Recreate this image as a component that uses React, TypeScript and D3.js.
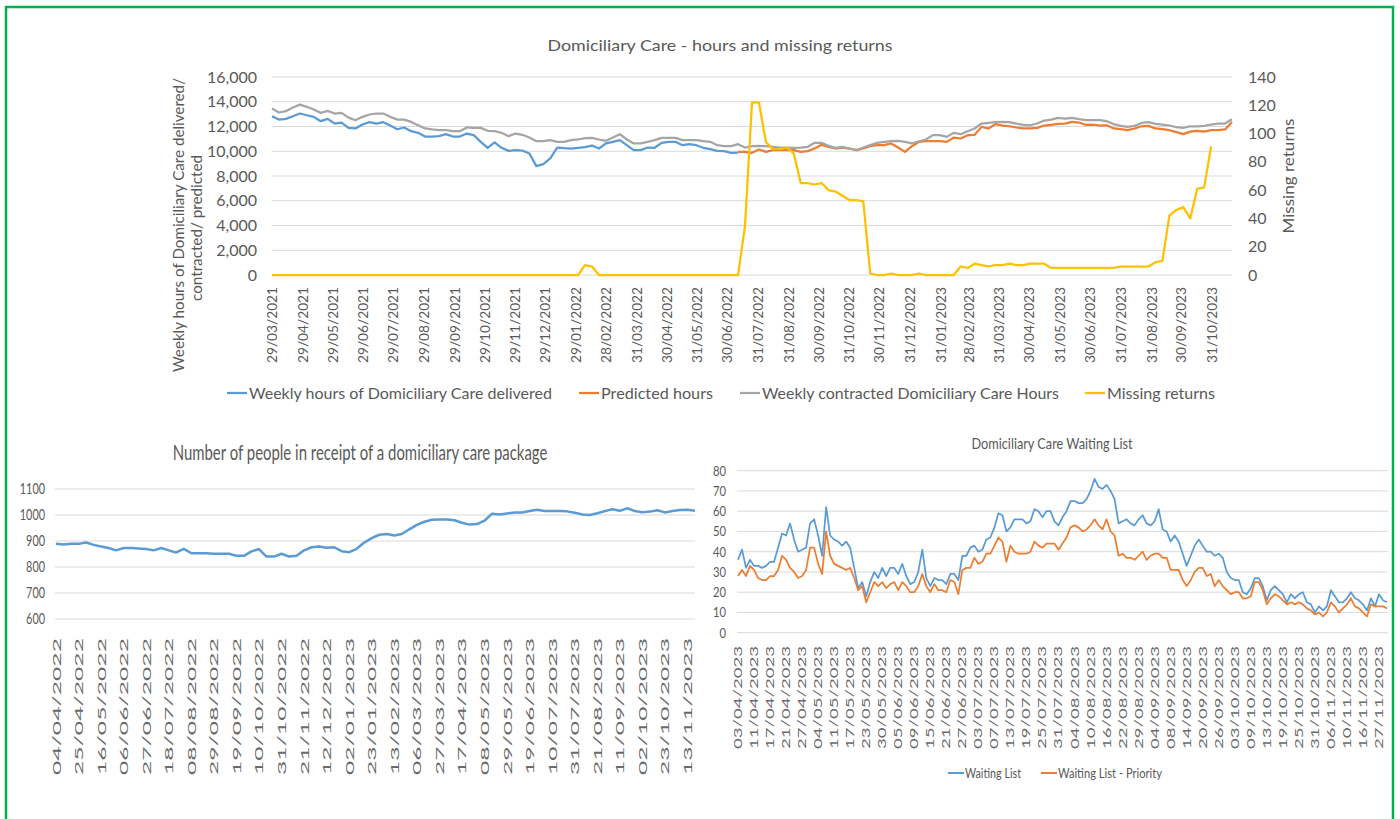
import React from 'react';
import * as d3 from 'd3';

const FONT = "Lato, 'Open Sans', sans-serif";
const TXT = '#595959';
const GRID = '#D9D9D9';
const BLUE = '#5B9BD5';
const ORANGE = '#ED7D31';
const GRAY = '#A5A5A5';
const YELLOW = '#FFC000';

// ---------- Top chart data ----------
const hoursTitle = 'Domiciliary Care - hours and missing returns';
const hoursStartDate = '29/03/2021';
const hoursAxisEnd = '20/11/2023';
const hoursTickLabels = [
  '29/03/2021', '29/04/2021', '29/05/2021', '29/06/2021', '29/07/2021', '29/08/2021', '29/09/2021', '29/10/2021',
  '29/11/2021', '29/12/2021', '29/01/2022', '28/02/2022', '31/03/2022', '30/04/2022', '31/05/2022', '30/06/2022',
  '31/07/2022', '31/08/2022', '30/09/2022', '31/10/2022', '30/11/2022', '31/12/2022', '31/01/2023', '28/02/2023',
  '31/03/2023', '30/04/2023', '31/05/2023', '30/06/2023', '31/07/2023', '31/08/2023', '30/09/2023', '31/10/2023',
];
const hoursTicks = [0, 2000, 4000, 6000, 8000, 10000, 12000, 14000, 16000];
const missingTicks = [0, 20, 40, 60, 80, 100, 120, 140];

const deliveredHours = [
  12830, 12560, 12620, 12830, 13050, 12910, 12780, 12430, 12620, 12240,
  12320, 11890, 11840, 12160, 12350, 12240, 12350, 12080, 11780, 11920,
  11620, 11490, 11190, 11190, 11220, 11380, 11190, 11190, 11430, 11300,
  10760, 10280, 10710, 10280, 10030, 10090, 10060, 9820, 8800, 8960,
  9420, 10300, 10250, 10220, 10280, 10330, 10460, 10220, 10630, 10760,
  10900, 10490, 10090, 10090, 10300, 10280, 10680, 10760, 10760, 10490,
  10570, 10490, 10280, 10170, 10030, 10010, 9870, 9890,
];
const predictedStartWeek = 67;
const predictedHours = [
  9950, 9950, 9870, 10140, 9950, 10090, 10090, 10090, 10090, 9950,
  10010, 10220, 10520, 10360, 10220, 10300, 10220, 10090, 10220, 10410,
  10490, 10490, 10630, 10300, 9950, 10410, 10760, 10810, 10810, 10810,
  10760, 11110, 11030, 11300, 11330, 11970, 11840, 12190, 12080, 12020,
  11920, 11840, 11840, 11890, 12080, 12130, 12210, 12240, 12370, 12320,
  12130, 12160, 12080, 12100, 11840, 11780, 11700, 11840, 12020, 12050,
  11840, 11780, 11700, 11540, 11380, 11590, 11650, 11590, 11700, 11700,
  11760, 12370,
];
const contractedHours = [
  13450, 13130, 13240, 13530, 13770, 13590, 13370, 13100, 13260, 13050,
  13100, 12720, 12510, 12780, 12970, 13050, 13050, 12780, 12560, 12560,
  12370, 12100, 11840, 11760, 11700, 11700, 11620, 11620, 11920, 11890,
  11890, 11650, 11620, 11490, 11220, 11430, 11330, 11110, 10810, 10810,
  10900, 10760, 10760, 10900, 10950, 11060, 11080, 10950, 10840, 11110,
  11380, 10950, 10630, 10630, 10760, 10900, 11080, 11080, 11080, 10900,
  10900, 10900, 10810, 10760, 10490, 10410, 10410, 10570, 10300, 10410,
  10440, 10410, 10360, 10300, 10300, 10280, 10300, 10360, 10680, 10680,
  10440, 10280, 10360, 10220, 10090, 10300, 10490, 10680, 10760, 10810,
  10840, 10760, 10630, 10810, 10950, 11300, 11300, 11160, 11490, 11380,
  11620, 11840, 12240, 12290, 12350, 12370, 12350, 12240, 12130, 12100,
  12240, 12480, 12560, 12700, 12640, 12700, 12590, 12510, 12510, 12510,
  12430, 12190, 12050, 11970, 12050, 12290, 12350, 12210, 12160, 12080,
  11940, 11890, 12020, 12020, 12050, 12160, 12240, 12240, 12590,
];
const missingReturns = [
  0, 0, 0, 0, 0, 0, 0, 0, 0, 0, 0, 0, 0, 0, 0, 0, 0, 0, 0, 0,
  0, 0, 0, 0, 0, 0, 0, 0, 0, 0, 0, 0, 0, 0, 0, 0, 0, 0, 0, 0,
  0, 0, 0, 0, 0, 7, 6,
  0, 0, 0, 0, 0, 0, 0, 0, 0, 0, 0, 0, 0, 0, 0, 0, 0, 0, 0, 0, 0,
  35, 122, 122, 94, 89, 89, 90, 86, 65, 65, 64, 65, 60, 59, 56, 53, 53, 52, 1,
  0, 0, 1, 0, 0, 0, 1, 0, 0, 0, 0, 0,
  6, 5, 8, 7, 6, 7, 7, 8, 7, 7, 8, 8, 8,
  5, 5, 5, 5, 5, 5, 5, 5, 5, 5,
  6, 6, 6, 6, 6,
  9, 10, 42, 46, 48, 40, 61, 62, 91,
];
const hoursLegend = [
  { label: 'Weekly hours of Domiciliary Care delivered', color: BLUE },
  { label: 'Predicted hours', color: ORANGE },
  { label: 'Weekly contracted Domiciliary Care Hours', color: GRAY },
  { label: 'Missing returns', color: YELLOW },
];

// ---------- Bottom-left chart data ----------
const peopleTitle = 'Number of people in receipt of a domiciliary care package';
const peopleTicks = [600, 700, 800, 900, 1000, 1100];
const peopleTickLabels = [
  '04/04/2022', '25/04/2022', '16/05/2022', '06/06/2022', '27/06/2022', '18/07/2022', '08/08/2022', '29/08/2022',
  '19/09/2022', '10/10/2022', '31/10/2022', '21/11/2022', '12/12/2022', '02/01/2023', '23/01/2023', '13/02/2023',
  '06/03/2023', '27/03/2023', '17/04/2023', '08/05/2023', '29/05/2023', '19/06/2023', '10/07/2023', '31/07/2023',
  '21/08/2023', '11/09/2023', '02/10/2023', '23/10/2023', '13/11/2023',
];
const peopleCount = [
  889, 887, 889, 889, 894, 885, 879, 873, 864, 873,
  873, 871, 869, 864, 873, 864, 856, 870, 853, 853,
  853, 851, 851, 851, 843, 843, 860, 869, 840, 840,
  851, 840, 843, 864, 876, 879, 874, 876, 861, 857,
  870, 894, 911, 924, 927, 921, 927, 945, 962, 974,
  982, 983, 983, 980, 970, 963, 965, 978, 1005, 1002,
  1006, 1010, 1010, 1015, 1020, 1015, 1015, 1015, 1014, 1009,
  1002, 1000, 1007, 1015, 1022, 1016, 1026, 1015, 1011, 1013,
  1018, 1010, 1015, 1019, 1020, 1016,
];

// ---------- Bottom-right chart data ----------
const waitTitle = 'Domiciliary Care Waiting List';
const waitTicks = [0, 10, 20, 30, 40, 50, 60, 70, 80];
const waitTickLabels = [
  '03/04/2023', '11/04/2023', '17/04/2023', '21/04/2023', '27/04/2023', '04/05/2023', '11/05/2023', '17/05/2023',
  '23/05/2023', '30/05/2023', '05/06/2023', '09/06/2023', '15/06/2023', '21/06/2023', '27/06/2023', '03/07/2023',
  '07/07/2023', '13/07/2023', '19/07/2023', '25/07/2023', '31/07/2023', '04/08/2023', '10/08/2023', '16/08/2023',
  '22/08/2023', '29/08/2023', '04/09/2023', '08/09/2023', '14/09/2023', '20/09/2023', '26/09/2023', '03/10/2023',
  '09/10/2023', '13/10/2023', '19/10/2023', '25/10/2023', '31/10/2023', '06/11/2023', '10/11/2023', '16/11/2023',
  '27/11/2023',
];
const waitLabelEvery = 4;
const waitingList = [
  36, 41, 32, 36, 33, 33, 32, 33, 35, 35,
  42, 49, 48, 54, 46, 40, 41, 42, 54, 56,
  48, 38, 62, 48, 46, 45, 43, 45, 42, 32,
  22, 25, 18, 25, 30, 27, 32, 28, 32, 32,
  29, 34, 28, 24, 25, 30, 41, 27, 23, 27,
  26, 26, 24, 29, 29, 26, 38, 38, 42, 43,
  40, 41, 46, 47, 52, 59, 58, 50, 52, 56,
  56, 56, 54, 55, 61, 60, 57, 60,
  60, 55, 53, 57, 60, 65, 65, 64, 64, 66,
  70, 76, 72, 71, 73, 70, 66, 54, 55, 56,
  54, 53, 56, 58, 54, 53, 55, 61, 51, 50,
  45, 48, 45, 39, 33, 38, 43, 46, 43, 40,
  40, 38, 39, 37, 30, 27, 26, 26, 20, 19,
  22, 27, 27, 23, 16, 21, 23, 21, 19, 15,
  19, 17, 19, 20, 15, 14, 10, 13, 11, 13,
  21, 18, 15, 15, 17, 20, 17, 16, 14, 11,
  17, 13, 19, 16, 15,
];
const waitingPriority = [
  28, 31, 28, 33, 31, 27, 26, 26, 28, 28,
  31, 38, 36, 32, 30, 27, 28, 31, 42, 42,
  34, 29, 50, 38, 34, 33, 32, 31, 32, 27,
  21, 23, 15, 20, 25, 23, 25, 22, 24, 25,
  21, 25, 23, 20, 20, 23, 29, 23, 20, 24,
  21, 21, 20, 26, 25, 19, 31, 32, 32, 37,
  34, 35, 39, 39, 43, 47, 45, 35, 43, 40,
  39, 39, 39, 40, 45, 43, 42, 44,
  44, 44, 41, 44, 47, 52, 53, 52, 50, 51,
  53, 56, 53, 51, 56, 50, 48, 38, 39, 37,
  37, 36, 38, 40, 36, 38, 39, 39, 37, 37,
  31, 31, 31, 26, 23, 26, 30, 32, 32, 28,
  29, 23, 26, 23, 21, 19, 20, 20, 17, 17,
  18, 25, 25, 21, 14, 17, 19, 18, 16, 14,
  15, 14, 15, 14, 12, 11, 9, 10, 8, 10,
  15, 13, 10, 12, 14, 17, 13, 12, 10, 8,
  14, 13, 13, 13, 12,
];
const waitLegend = [
  { label: 'Waiting List', color: BLUE },
  { label: 'Waiting List - Priority', color: ORANGE },
];

const parse = d3.timeParse('%d/%m/%Y');

let measureCtx: CanvasRenderingContext2D | null = null;
function textWidth(s: string, size: number): number {
  if (!measureCtx) {
    const c = document.createElement('canvas');
    measureCtx = c.getContext('2d');
  }
  if (!measureCtx) return s.length * size * 0.5;
  measureCtx.font = `${size}px Lato, 'Open Sans', sans-serif`;
  return measureCtx.measureText(s).width;
}

function TopChart() {
  const t0 = parse(hoursStartDate) as Date;
  const t1 = parse(hoursAxisEnd) as Date;
  const x = d3.scaleTime().domain([t0, t1]).range([272, 1232]);
  const y = d3.scaleLinear().domain([0, 16000]).range([275, 77]);
  const y2 = d3.scaleLinear().domain([0, 140]).range([275, 77]);
  const wk = (i: number) => x(d3.timeDay.offset(t0, 7 * i));
  const fmt = d3.format(',');
  const lineFrom = (offset: number, sc: (v: number) => number) =>
    d3.line<number>().x((_, i) => wk(i + offset)).y((d) => sc(d));

  const legendX = [227, 579, 740, 1085];
  const legendW = [303, 112, 297, 108];
  return (
    <g>
      <text x={720} y={51} textAnchor="middle" fontSize={16} fill={TXT} textLength={345} lengthAdjust="spacingAndGlyphs">{hoursTitle}</text>
      {hoursTicks.map((t) => (
        <line key={t} x1={272} x2={1232} y1={y(t)} y2={y(t)} stroke={GRID} strokeWidth={1} />
      ))}
      {hoursTicks.map((t) => (
        <text key={'l' + t} x={257} y={y(t)} dy="0.35em" textAnchor="end" fontSize={16} fill={TXT}>{fmt(t)}</text>
      ))}
      {missingTicks.map((t) => (
        <text key={'r' + t} x={1248} y={y2(t)} dy="0.35em" textAnchor="start" fontSize={16} fill={TXT}>{t}</text>
      ))}
      {hoursTickLabels.map((l) => {
        const px = x(parse(l) as Date);
        return (
          <text key={l} transform={`translate(${px},287) rotate(-90)`} textAnchor="end" dominantBaseline="central" fontSize={13} fill={TXT} textLength={76} lengthAdjust="spacingAndGlyphs">{l}</text>
        );
      })}
      <text transform="translate(178,225) rotate(-90)" textAnchor="middle" dominantBaseline="central" fontSize={15} fill={TXT} textLength={294} lengthAdjust="spacingAndGlyphs">Weekly hours of Domiciliary Care delivered/</text>
      <text transform="translate(196,228) rotate(-90)" textAnchor="middle" dominantBaseline="central" fontSize={15} fill={TXT} textLength={146} lengthAdjust="spacingAndGlyphs">contracted/ predicted</text>
      <text transform="translate(1287,176) rotate(-90)" textAnchor="middle" dominantBaseline="central" fontSize={16} fill={TXT} textLength={115} lengthAdjust="spacingAndGlyphs">Missing returns</text>

      <path d={lineFrom(0, y)(deliveredHours) || ''} fill="none" stroke={BLUE} strokeWidth={2.25} strokeLinejoin="round" />
      <path d={lineFrom(predictedStartWeek, y)(predictedHours) || ''} fill="none" stroke={ORANGE} strokeWidth={2.25} strokeLinejoin="round" />
      <path d={lineFrom(0, y)(contractedHours) || ''} fill="none" stroke={GRAY} strokeWidth={2.25} strokeLinejoin="round" />
      <path d={lineFrom(0, y2)(missingReturns) || ''} fill="none" stroke={YELLOW} strokeWidth={2.25} strokeLinejoin="round" />

      {hoursLegend.map((it, i) => (
        <g key={it.label}>
          <line x1={legendX[i]} x2={legendX[i] + 20} y1={393} y2={393} stroke={it.color} strokeWidth={2.25} />
          <text x={legendX[i] + 22} y={393} dy="0.35em" fontSize={16} fill={TXT} textLength={legendW[i]} lengthAdjust="spacingAndGlyphs">{it.label}</text>
        </g>
      ))}
    </g>
  );
}

function PeopleChart() {
  const x = d3.scaleLinear().domain([0, peopleCount.length - 1]).range([56, 695]);
  const y = d3.scaleLinear().domain([600, 1100]).range([619, 489]);
  const line = d3.line<number>().x((_, i) => x(i)).y((d) => y(d));
  const titleSize = 22;
  const titleScale = 376 / textWidth(peopleTitle, titleSize);
  return (
    <g>
      <g transform={`translate(360,460) scale(${titleScale},1)`}>
        <text x={0} y={0} textAnchor="middle" fontSize={titleSize} fill={TXT}>{peopleTitle}</text>
      </g>
      {peopleTicks.map((t) => (
        <line key={t} x1={55} x2={695} y1={y(t)} y2={y(t)} stroke={GRID} strokeWidth={1} />
      ))}
      {peopleTicks.map((t) => (
        <text key={'l' + t} x={45} y={y(t)} dy="0.35em" textAnchor="end" fontSize={15} fill={TXT} textLength={String(t).length * 6.3} lengthAdjust="spacingAndGlyphs">{t}</text>
      ))}
      {peopleTickLabels.map((l, j) => (
        <text key={l} transform={`translate(${x(j * 3)},638) rotate(-90)`} textAnchor="end" dominantBaseline="central" fontSize={11.5} fill="#6a6a6a" textLength={137} lengthAdjust="spacingAndGlyphs">{l}</text>
      ))}
      <path d={line(peopleCount) || ''} fill="none" stroke={BLUE} strokeWidth={2.5} strokeLinejoin="round" />
    </g>
  );
}

function WaitingChart() {
  const x = d3.scaleLinear().domain([0, waitingList.length - 1]).range([738, 1387]);
  const y = d3.scaleLinear().domain([0, 80]).range([632.7, 470.7]);
  const line = d3.line<number>().x((_, i) => x(i)).y((d) => y(d));
  const legX = [948, 1041];
  const legW = [56, 104];
  return (
    <g>
      <text x={1052} y={449} textAnchor="middle" fontSize={15} fill={TXT} textLength={161} lengthAdjust="spacingAndGlyphs">{waitTitle}</text>
      {waitTicks.map((t) => (
        <line key={t} x1={737} x2={1388} y1={y(t)} y2={y(t)} stroke={GRID} strokeWidth={1} />
      ))}
      {waitTicks.map((t) => (
        <text key={'l' + t} x={726} y={y(t)} dy="0.35em" textAnchor="end" fontSize={14} fill={TXT} textLength={String(t).length * 6.5} lengthAdjust="spacingAndGlyphs">{t}</text>
      ))}
      {waitTickLabels.map((l, j) => (
        <text key={l} transform={`translate(${x(j * waitLabelEvery)},646) rotate(-90)`} textAnchor="end" dominantBaseline="central" fontSize={10.5} fill="#6a6a6a" textLength={103} lengthAdjust="spacingAndGlyphs">{l}</text>
      ))}
      <path d={line(waitingList) || ''} fill="none" stroke={BLUE} strokeWidth={1.75} strokeLinejoin="round" />
      <path d={line(waitingPriority) || ''} fill="none" stroke={ORANGE} strokeWidth={1.75} strokeLinejoin="round" />
      {waitLegend.map((it, i) => (
        <g key={it.label}>
          <line x1={legX[i]} x2={legX[i] + 16} y1={773} y2={773} stroke={it.color} strokeWidth={2} />
          <text x={legX[i] + 17} y={773} dy="0.35em" fontSize={13} fill={TXT} textLength={legW[i]} lengthAdjust="spacingAndGlyphs">{it.label}</text>
        </g>
      ))}
    </g>
  );
}

export default function App() {
  return (
    <svg width={1400} height={819} style={{ position: 'absolute', left: 0, top: 0, display: 'block' }} fontFamily={FONT}>
      <rect x={0} y={0} width={1400} height={819} fill="#ffffff" />
      <rect x={6} y={7} width={1387} height={880} fill="none" stroke="#00B050" strokeWidth={2.5} />
      <TopChart />
      <PeopleChart />
      <WaitingChart />
    </svg>
  );
}
